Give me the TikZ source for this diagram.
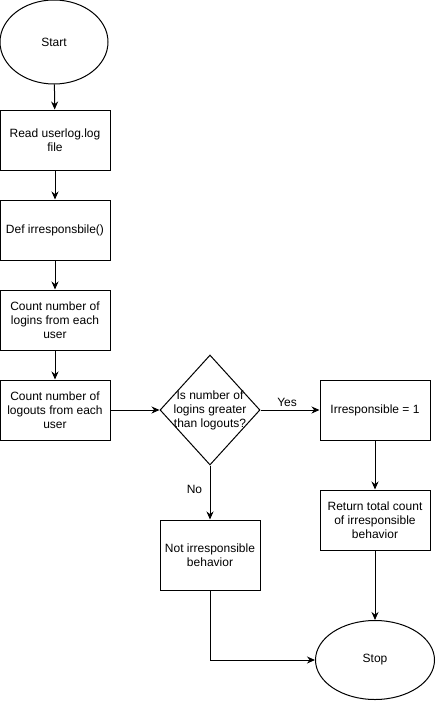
\documentclass[tikz,border=0pt]{standalone}
\usepackage{fontspec}
\setmainfont{Liberation Sans}
\usetikzlibrary{shapes.geometric,arrows.meta}

\tikzset{
  every node/.style={font=\fontsize{12}{14}\selectfont},
  terminal/.style={draw,ellipse,line width=1pt,minimum width=108,minimum height=84,inner sep=0},
  process/.style={draw,rectangle,line width=1pt,minimum width=110,minimum height=60,align=center,inner sep=0},
  decision/.style={draw,diamond,line width=1pt,minimum width=100,minimum height=110,inner sep=0},
  flow/.style={line width=1pt,-{Stealth[length=8pt,width=7pt]}},
}

\begin{document}
\begin{tikzpicture}[x=1pt,y=-1pt]
  \useasboundingbox (0,0) rectangle (436,701);

  \node (START) at (54,42) [terminal] {Start};
  \node (READ)  at (55,140) [process] {Read userlog.log\\file};
  \node (DEF)   at (55,230) [process] {Def irresponsbile()};
  \node (LOGIN) at (55,320) [process] {Count number of\\logins from each\\user};
  \node (LOGOUT) at (55,410) [process] {Count number of\\logouts from each\\user};

  \node (CHECK) at (210,410) [decision] {};
  \node (CHECKTXT) at (CHECK) [align=center] {Is number of\\logins greater\\than logouts?};

  \node (IRR)  at (375,410) [process] {Irresponsible = 1};
  \node (RET)  at (375,520) [process] {Return total count\\of irresponsible\\behavior};
  \node (NOT)  at (210,555) [process,minimum width=100,minimum height=70] {Not irresponsible\\behavior};
  \node (STOP) at (375,660) [terminal,minimum width=119,minimum height=79] {Stop};

  \coordinate (BEND) at (210,660);

  \draw[flow] (START) -- (READ);
  \draw[flow] (READ) -- (DEF);
  \draw[flow] (DEF) -- (LOGIN);
  \draw[flow] (LOGIN) -- (LOGOUT);
  \draw[flow] (LOGOUT) -- (CHECK);
  \draw[flow] (CHECK) -- node[above,pos=0.45] {Yes} (IRR);
  \draw[flow] (CHECK) -- node[left,pos=0.45,xshift=-4pt] {No} (NOT);
  \draw[flow] (IRR) -- (RET);
  \draw[flow] (RET) -- (STOP);
  \draw[flow] (NOT) -- (BEND) -- (STOP);

\end{tikzpicture}
\end{document}
